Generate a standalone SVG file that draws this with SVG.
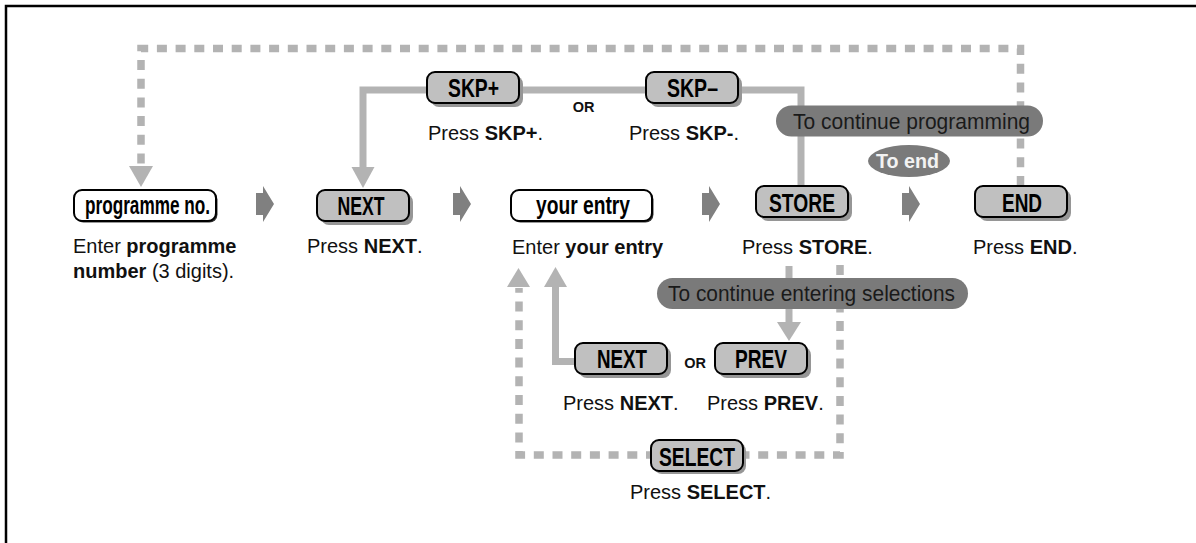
<svg xmlns="http://www.w3.org/2000/svg" width="1196" height="543" viewBox="0 0 1196 543">
<defs>
<style>
.frame{fill:none;stroke:#000;stroke-width:2.5}
.dash{fill:none;stroke:#b3b3b3;stroke-width:7.5;stroke-dasharray:10 8.7}
.solid{fill:none;stroke:#b3b3b3;stroke-width:7}
.head{fill:#b3b3b3}
.chev{fill:#808080}
.shadow{fill:#969696}
.wshadow{fill:#333}
.btn{fill:#c0c0c0;stroke:#000;stroke-width:2}
.wbtn{fill:#fff;stroke:#000;stroke-width:2}
.bl{font-family:"Liberation Sans",Arial,sans-serif;font-weight:bold;font-size:25.5px;fill:#000;text-anchor:middle}
.lbl{font-family:"Liberation Sans",Arial,sans-serif;font-size:20px;fill:#111}
.b{font-weight:bold}
.or{font-family:"Liberation Sans",Arial,sans-serif;font-weight:bold;font-size:14.5px;fill:#111;text-anchor:middle}
.pill{fill:#7a7a7a}
.pt{font-family:"Liberation Sans",Arial,sans-serif;font-size:21.5px;fill:#1a1a1a}
.endt{font-family:"Liberation Sans",Arial,sans-serif;font-weight:bold;font-size:19.5px;fill:#f2f2f2}
</style>
</defs>
<rect width="1196" height="543" fill="#fff"/>
<path class="frame" d="M6 543 V6 H1196"/>

<g id="connectors">
  <path class="dash" d="M1020.5 186 V48.5 H141 V168"/>
  <polygon class="head" points="129,166 153,166 141,187"/>
  <path class="solid" d="M363 168 V90 H801 V187"/>
  <polygon class="head" points="351.5,167 374.5,167 363,188"/>
  <path class="dash" d="M840 265 V455 H519 V288"/>
  <polygon class="head" points="507,287 530,287 518.5,268"/>
  <path class="solid" d="M575 361.5 H555.5 V286"/>
  <polygon class="head" points="544,287 567,287 555.5,267"/>
  <path class="solid" d="M789 266 V324"/>
  <polygon class="head" points="777,322 801,322 789,341"/>
  <path class="chev" d="M256 193 H263 V186 L274 204 L263 222 V215 H256 Z"/>
  <path class="chev" d="M453 193 H460 V186 L471 204 L460 222 V215 H453 Z"/>
  <path class="chev" d="M702 193 H709 V186 L720 204 L709 222 V215 H702 Z"/>
  <path class="chev" d="M902 193 H909 V186 L920 204 L909 222 V215 H902 Z"/>
</g>

<g id="pill-continue-programming">
  <rect class="pill" x="776" y="105.5" width="267" height="31" rx="15.5"/>
  <text class="pt" x="793" y="128.5" textLength="237" lengthAdjust="spacingAndGlyphs">To continue programming</text>
</g>
<g id="pill-to-end">
  <ellipse class="pill" cx="909" cy="161" rx="41" ry="16"/>
  <text class="endt" x="876" y="168" textLength="63" lengthAdjust="spacingAndGlyphs">To end</text>
</g>
<g id="pill-continue-entering">
  <rect class="pill" x="657" y="278" width="311" height="31" rx="15.5"/>
  <text class="pt" x="668" y="300.5" textLength="287" lengthAdjust="spacingAndGlyphs">To continue entering selections</text>
</g>

<g id="node-skp-plus">
  <rect class="shadow" x="431" y="76" width="92" height="31" rx="8"/>
  <rect class="btn" x="427" y="72" width="92" height="31" rx="8"/>
  <text class="bl" x="473.5" y="97" textLength="51" lengthAdjust="spacingAndGlyphs">SKP+</text>
  <text class="lbl" x="428" y="140">Press <tspan class="b">SKP+</tspan>.</text>
</g>
<text class="or" x="583.5" y="112">OR</text>
<g id="node-skp-minus">
  <rect class="shadow" x="650" y="76" width="92" height="31" rx="8"/>
  <rect class="btn" x="646" y="72" width="92" height="31" rx="8"/>
  <text class="bl" x="692.5" y="97" textLength="51" lengthAdjust="spacingAndGlyphs">SKP–</text>
  <text class="lbl" x="629" y="140">Press <tspan class="b">SKP-</tspan>.</text>
</g>

<g id="node-programme-no">
  <rect class="wshadow" x="75.5" y="191.5" width="142" height="31" rx="8"/>
  <rect class="wbtn" x="74" y="190" width="142" height="31" rx="8"/>
  <text class="bl" x="147.5" y="213.5" textLength="125" lengthAdjust="spacingAndGlyphs">programme no.</text>
  <text class="lbl" x="73" y="253">Enter <tspan class="b">programme</tspan></text>
  <text class="lbl" x="73" y="278"><tspan class="b">number</tspan> (3 digits).</text>
</g>
<g id="node-next">
  <rect class="shadow" x="321" y="194" width="92" height="31" rx="8"/>
  <rect class="btn" x="317" y="190" width="92" height="31" rx="8"/>
  <text class="bl" x="361" y="215" textLength="47" lengthAdjust="spacingAndGlyphs">NEXT</text>
  <text class="lbl" x="307" y="253">Press <tspan class="b">NEXT</tspan>.</text>
</g>
<g id="node-your-entry">
  <rect class="wshadow" x="512.5" y="191.5" width="141" height="31" rx="8"/>
  <rect class="wbtn" x="511" y="190" width="141" height="31" rx="8"/>
  <text class="bl" x="583" y="213.5" textLength="94" lengthAdjust="spacingAndGlyphs">your entry</text>
  <text class="lbl" x="512" y="254">Enter <tspan class="b">your entry</tspan></text>
</g>
<g id="node-store">
  <rect class="shadow" x="760" y="190" width="92" height="31" rx="8"/>
  <rect class="btn" x="756" y="186" width="92" height="31" rx="8"/>
  <text class="bl" x="802" y="211.5" textLength="66" lengthAdjust="spacingAndGlyphs">STORE</text>
  <text class="lbl" x="742" y="254">Press <tspan class="b">STORE</tspan>.</text>
</g>
<g id="node-end">
  <rect class="shadow" x="979" y="190" width="92" height="31" rx="8"/>
  <rect class="btn" x="975" y="186" width="92" height="31" rx="8"/>
  <text class="bl" x="1022" y="211.5" textLength="40" lengthAdjust="spacingAndGlyphs">END</text>
  <text class="lbl" x="973" y="254">Press <tspan class="b">END</tspan>.</text>
</g>

<g id="node-next-2">
  <rect class="shadow" x="579" y="347" width="92" height="31" rx="8"/>
  <rect class="btn" x="575" y="343" width="92" height="31" rx="8"/>
  <text class="bl" x="622" y="368" textLength="50" lengthAdjust="spacingAndGlyphs">NEXT</text>
  <text class="lbl" x="563" y="410">Press <tspan class="b">NEXT</tspan>.</text>
</g>
<text class="or" x="695" y="368">OR</text>
<g id="node-prev">
  <rect class="shadow" x="719" y="347" width="92" height="31" rx="8"/>
  <rect class="btn" x="715" y="343" width="92" height="31" rx="8"/>
  <text class="bl" x="761" y="368" textLength="52" lengthAdjust="spacingAndGlyphs">PREV</text>
  <text class="lbl" x="707" y="410">Press <tspan class="b">PREV</tspan>.</text>
</g>
<g id="node-select">
  <rect class="shadow" x="654" y="443" width="92" height="31" rx="8"/>
  <rect class="btn" x="651" y="440" width="92" height="31" rx="8"/>
  <text class="bl" x="697" y="465.5" textLength="76" lengthAdjust="spacingAndGlyphs">SELECT</text>
  <text class="lbl" x="630" y="499">Press <tspan class="b">SELECT</tspan>.</text>
</g>
</svg>
